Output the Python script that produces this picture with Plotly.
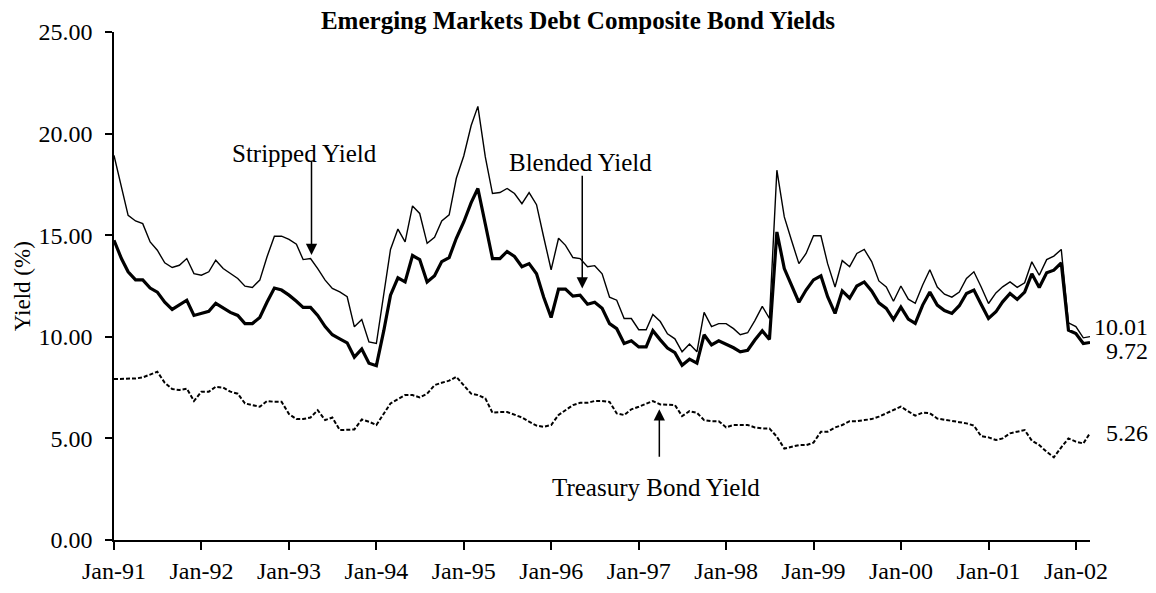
import pandas as pd
import plotly.graph_objects as go

# Month-start dates, Jan-1991 .. Mar-2002
months = pd.date_range("1991-01-01", "2002-03-01", freq="MS")

# Stripped spread yield (%)
stripped_yield = [
    18.93, 17.40, 15.98, 15.70, 15.57, 14.67, 14.26, 13.64, 13.41, 13.52, 13.85, 13.11,  # 1991
    13.03, 13.20, 13.77, 13.36, 13.11, 12.87, 12.49, 12.43, 12.79, 13.93, 14.95, 14.95,  # 1992
    14.79, 14.56, 13.80, 13.85, 13.36, 12.79, 12.38, 12.21, 11.97, 10.49, 10.85, 9.75,   # 1993
    9.67, 12.00, 14.30, 15.30, 14.67, 16.44, 16.07, 14.60, 14.90, 15.70, 16.00, 17.80,   # 1994
    18.90, 20.40, 21.34, 18.85, 17.05, 17.10, 17.30, 17.05, 16.55, 17.10, 16.50, 14.90,  # 1995
    13.30, 14.85, 14.50, 13.90, 13.85, 13.45, 13.50, 13.10, 11.95, 11.80, 10.90, 10.90,  # 1996
    10.35, 10.35, 11.10, 10.75, 10.15, 9.90, 9.26, 9.64, 9.26, 11.20, 10.50, 10.65,      # 1997
    10.65, 10.40, 10.10, 10.20, 10.80, 11.50, 10.90, 18.20, 15.90, 14.75, 13.60, 14.10,  # 1998
    14.97, 14.97, 13.60, 12.45, 13.75, 13.45, 14.10, 14.30, 13.70, 12.75, 12.45, 11.75,  # 1999
    12.50, 11.85, 11.65, 12.55, 13.30, 12.45, 12.10, 11.95, 12.20, 12.87, 13.20, 12.46,  # 2000
    11.64, 12.16, 12.46, 12.70, 12.43, 12.66, 13.69, 13.03, 13.80, 13.97, 14.30, 10.69,  # 2001
    10.50, 9.95, 10.01,                                                                  # 2002
]

# Blended yield (%)
blended_yield = [
    14.75, 13.85, 13.20, 12.80, 12.80, 12.40, 12.20, 11.70, 11.35, 11.55, 11.80, 11.05,  # 1991
    11.15, 11.25, 11.65, 11.40, 11.20, 11.05, 10.65, 10.65, 10.95, 11.70, 12.40, 12.30,  # 1992
    12.05, 11.75, 11.45, 11.45, 11.05, 10.50, 10.10, 9.90, 9.70, 9.00, 9.40, 8.70,       # 1993
    8.58, 10.30, 12.05, 12.90, 12.70, 14.00, 13.80, 12.70, 13.00, 13.70, 13.90, 14.85,   # 1994
    15.65, 16.60, 17.30, 15.55, 13.85, 13.85, 14.20, 13.95, 13.45, 13.60, 13.10, 11.95,  # 1995
    10.95, 12.35, 12.35, 12.00, 12.05, 11.60, 11.70, 11.40, 10.65, 10.40, 9.67, 9.80,    # 1996
    9.50, 9.50, 10.30, 9.85, 9.45, 9.22, 8.60, 8.90, 8.70, 10.10, 9.60, 9.80,            # 1997
    9.64, 9.46, 9.26, 9.34, 9.84, 10.30, 9.87, 15.16, 13.36, 12.54, 11.70, 12.30,        # 1998
    12.80, 13.00, 11.97, 11.15, 12.26, 11.90, 12.50, 12.70, 12.26, 11.67, 11.40, 10.85,  # 1999
    11.46, 10.87, 10.66, 11.56, 12.20, 11.56, 11.29, 11.15, 11.53, 12.13, 12.30, 11.60,  # 2000
    10.90, 11.23, 11.72, 12.13, 11.84, 12.20, 13.10, 12.43, 13.15, 13.28, 13.64, 10.33,  # 2001
    10.16, 9.67, 9.72,                                                                   # 2002
]

# US Treasury bond yield (%)
treasury_yield = [
    7.92, 7.92, 7.92, 7.95, 8.00, 8.16, 8.28, 7.74, 7.43, 7.38, 7.45, 6.84,  # 1991
    7.30, 7.30, 7.54, 7.50, 7.30, 7.20, 6.72, 6.64, 6.56, 6.84, 6.80, 6.80,  # 1992
    6.20, 5.95, 5.95, 6.03, 6.39, 5.90, 6.03, 5.41, 5.41, 5.44, 5.93, 5.82,  # 1993
    5.66, 6.20, 6.72, 6.93, 7.13, 7.13, 7.02, 7.20, 7.62, 7.74, 7.84, 8.03,  # 1994
    7.62, 7.20, 7.13, 6.97, 6.26, 6.30, 6.30, 6.15, 6.03, 5.82, 5.63, 5.57,  # 1995
    5.66, 6.15, 6.39, 6.64, 6.75, 6.75, 6.84, 6.84, 6.80, 6.23, 6.15, 6.43,  # 1996
    6.56, 6.69, 6.84, 6.67, 6.64, 6.64, 6.10, 6.34, 6.26, 5.90, 5.85, 5.85,  # 1997
    5.54, 5.66, 5.66, 5.66, 5.54, 5.49, 5.49, 5.08, 4.50, 4.59, 4.67, 4.67,  # 1998
    4.79, 5.33, 5.33, 5.54, 5.66, 5.85, 5.85, 5.90, 5.95, 6.07, 6.23, 6.39,  # 1999
    6.56, 6.33, 6.12, 6.27, 6.24, 5.98, 5.91, 5.85, 5.80, 5.74, 5.63, 5.11,  # 2000
    5.05, 4.92, 5.00, 5.25, 5.33, 5.41, 4.89, 4.67, 4.34, 4.07, 4.56, 5.00,  # 2001
    4.84, 4.75, 5.26,                                                        # 2002
]

FONT = "Liberation Serif, Times New Roman, serif"

fig = go.Figure()
fig.add_trace(go.Scatter(x=months, y=treasury_yield, mode="lines",
                         line=dict(color="black", width=2, dash="4px,2px"),
                         name="Treasury Bond Yield"))
fig.add_trace(go.Scatter(x=months, y=stripped_yield, mode="lines",
                         line=dict(color="black", width=1.4),
                         name="Stripped Yield"))
fig.add_trace(go.Scatter(x=months, y=blended_yield, mode="lines",
                         line=dict(color="black", width=3.2),
                         name="Blended Yield"))

# Callout labels with vertical arrows: (text, text x, text y, arrow x, tail y, tip y)
callouts = [
    ("Stripped Yield", "1993-03-08", 19.0, "1993-04-05", 18.7, 14.02),
    ("Blended Yield", "1996-05-03", 18.57, "1996-05-10", 18.0, 12.38),
    ("Treasury Bond Yield", "1997-03-16", 2.56, "1997-03-28", 4.02, 6.43),
]

annotations = []
for text, tx, ty, axd, tail, tip in callouts:
    annotations.append(dict(x=tx, y=ty, xref="x", yref="y", text=text,
                            showarrow=False, xanchor="center", yanchor="middle",
                            font=dict(family=FONT, size=25, color="black")))
    annotations.append(dict(x=axd, y=tip, ax=axd, ay=tail, xref="x", yref="y",
                            axref="x", ayref="y", text="", showarrow=True,
                            arrowhead=2, arrowsize=1.5, arrowwidth=1.5,
                            arrowcolor="black"))

# End-of-series values
last = months[-1]
end_labels = [
    (f"{stripped_yield[-1]:.2f}", stripped_yield[-1], 10),
    (f"{blended_yield[-1]:.2f}", blended_yield[-1], -9),
    (f"{treasury_yield[-1]:.2f}", treasury_yield[-1], 0),
]
for text, val, shift in end_labels:
    annotations.append(dict(x=last, y=val, xref="x", yref="y", text=text,
                            showarrow=False, xanchor="right", yanchor="middle",
                            xshift=60, yshift=shift,
                            font=dict(family=FONT, size=24, color="black")))

# Vertical axis title
annotations.append(dict(x=-0.094, y=0.5, xref="paper", yref="paper",
                        text="Yield (%)", textangle=-90, showarrow=False,
                        xanchor="center", yanchor="middle",
                        font=dict(family=FONT, size=23, color="black")))

fig.update_layout(
    width=1156, height=593,
    margin=dict(l=114, r=66, t=32, b=53, autoexpand=False),
    paper_bgcolor="white", plot_bgcolor="white",
    showlegend=False,
    font=dict(family=FONT, size=24, color="black"),
    title=dict(text="<b>Emerging Markets Debt Composite Bond Yields</b>",
               x=0.5, xref="container", xanchor="center",
               y=1 - 20 / 593, yref="container", yanchor="middle",
               font=dict(family=FONT, size=25, color="black")),
    annotations=annotations,
)

fig.update_xaxes(
    type="date", range=["1991-01-01", "2002-03-01"],
    tick0="1991-01-01", dtick="M12", tickformat="%b-%y",
    ticks="outside", ticklen=8, tickwidth=1.5, tickcolor="black",
    showline=True, linecolor="black", linewidth=1.5,
    showgrid=False, zeroline=False, automargin=False,
    tickfont=dict(family=FONT, size=24, color="black"),
    ticklabelstandoff=0,
)
fig.update_yaxes(
    range=[0, 25], dtick=5, tickformat=".2f",
    ticks="outside", ticklen=7, tickwidth=1.5, tickcolor="black",
    showline=True, linecolor="black", linewidth=1.5,
    showgrid=False, zeroline=False, automargin=False,
    tickfont=dict(family=FONT, size=24, color="black"),
    ticklabelstandoff=8,
)

fig.write_html("out.html")
